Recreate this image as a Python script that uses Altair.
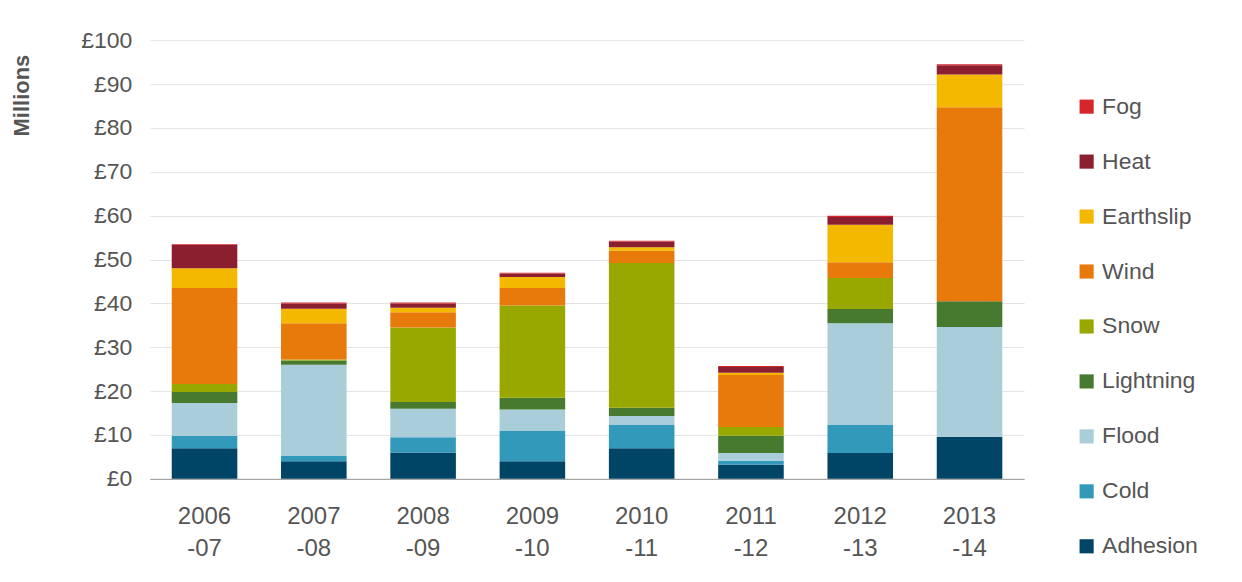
import altair as alt
import pandas as pd

years = ["2006-07", "2007-08", "2008-09", "2009-10", "2010-11", "2011-12", "2012-13", "2013-14"]
causes = ["Adhesion", "Cold", "Flood", "Lightning", "Snow", "Wind", "Earthslip", "Heat", "Fog"]
colors = ["#004466", "#3399bb", "#a9ced9", "#477a2e", "#99a800", "#e87a0c", "#f5b800", "#8b1f2f", "#d7262b"]

adhesion = [7.0, 4.0, 6.0, 4.0, 7.0, 3.2, 5.9, 9.6]
cold = [2.8, 1.2, 3.5, 7.0, 5.3, 0.9, 6.4, 0.0]
flood = [7.5, 20.8, 6.5, 4.8, 2.0, 1.8, 23.2, 25.0]
lightning = [2.5, 1.0, 1.5, 2.7, 1.9, 3.9, 3.2, 5.9]
snow = [1.8, 0.2, 17.0, 21.0, 33.0, 2.0, 7.1, 0.0]
wind = [21.9, 8.3, 3.5, 4.0, 2.8, 11.9, 3.6, 44.2]
earthslip = [4.5, 3.3, 1.0, 2.5, 0.8, 0.5, 8.5, 7.5]
heat = [5.3, 1.2, 1.0, 0.8, 1.3, 1.3, 1.8, 2.1]
fog = [0.2, 0.2, 0.2, 0.2, 0.2, 0.2, 0.3, 0.2]

series = [adhesion, cold, flood, lightning, snow, wind, earthslip, heat, fog]
rows = []
for i, (cause, vals) in enumerate(zip(causes, series)):
    for y, v in zip(years, vals):
        rows.append({"year": y, "cause": cause, "value": v, "order": i})
df = pd.DataFrame(rows)

font = "Liberation Sans"

chart = (
    alt.Chart(df)
    .mark_bar()
    .encode(
        x=alt.X("year:N", sort=years, title=None,
                scale=alt.Scale(paddingInner=0.4, paddingOuter=0.2),
                axis=alt.Axis(labelExpr="[slice(datum.label,0,4), slice(datum.label,4)]",
                              labelFontSize=24, labelColor="#555", labelFont=font,
                              labelPadding=26, ticks=False, domainColor="#999",
                              labelAngle=0, labelLineHeight=32)),
        y=alt.Y("value:Q", stack="zero", title="Millions",
                scale=alt.Scale(domain=[0, 100]),
                axis=alt.Axis(values=list(range(0, 101, 10)), labelExpr="'£' + datum.value",
                              labelFontSize=23, labelColor="#555", labelFont=font,
                              ticks=False, domain=False, gridColor="#e3e3e3",
                              labelPadding=18, titleFontSize=22, titleFont=font,
                              titleColor="#555", titleAnchor="end", titleX=-116, titleY=14)),
        color=alt.Color("cause:N", scale=alt.Scale(domain=causes[::-1], range=colors[::-1]),
                        legend=alt.Legend(title=None, orient="none", legendX=926, legendY=55,
                                          symbolType="square", symbolSize=200,
                                          symbolStrokeWidth=0, labelFontSize=23,
                                          labelColor="#555", labelFont=font,
                                          rowPadding=31, labelOffset=4)),
        order=alt.Order("order:Q"),
    )
    .properties(width=875, height=439, autosize="none",
                padding={"left": 142, "top": 32, "right": 210, "bottom": 95})
    .configure(background="white")
    .configure_view(stroke=None, strokeWidth=0)
)
chart.save("out.html", embed_options={"renderer": "svg", "actions": False})
